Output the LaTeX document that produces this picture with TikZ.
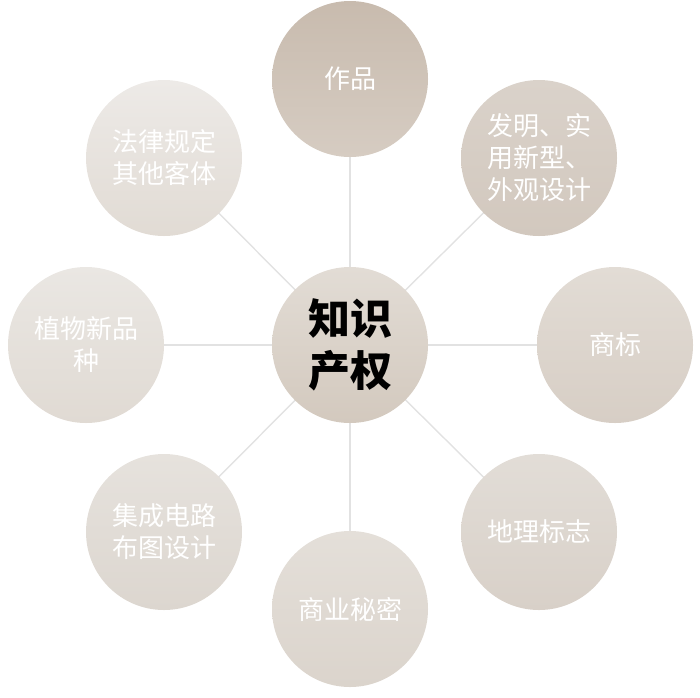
\documentclass[tikz,border=0pt]{standalone}
\usepackage{fontspec}
\newfontfamily\cjk{Noto Sans CJK SC}
\usetikzlibrary{backgrounds}
\definecolor{linec}{HTML}{E2E2E2}
\tikzset{
  bubble/.style={circle, minimum size=156pt, inner sep=0pt, align=center,
    text=white, font=\cjk\fontsize{26}{32}\selectfont, shading=axis},
  hub/.style={circle, minimum size=156pt, inner sep=0pt, align=center,
    text=black, font=\cjk\bfseries\fontsize{42}{52}\selectfont,
    top color=hubT, bottom color=hubB},
  spoke/.style={draw=linec, line width=1.4pt}
}
\definecolor{hubT}{HTML}{E2DCD5}
\definecolor{hubB}{HTML}{D3C9BE}
\begin{document}
\begin{tikzpicture}[x=1pt,y=-1pt]
\useasboundingbox (0,0) rectangle (700,697);
\node[hub] (c) at (350,345) {知识\\产权};
\node[bubble, top color={rgb,255:red,200;green,187;blue,174}, bottom color={rgb,255:red,214;green,204;blue,194}] (n1) at (350,79) {作品};
\node[bubble, top color={rgb,255:red,218;green,210;blue,202}, bottom color={rgb,255:red,210;green,200;blue,190}] (n2) at (539,158) {发明、实\\用新型、\\外观设计};
\node[bubble, top color={rgb,255:red,226;green,220;blue,213}, bottom color={rgb,255:red,215;green,206;blue,197}] (n3) at (615,345) {商标};
\node[bubble, top color={rgb,255:red,226;green,221;blue,215}, bottom color={rgb,255:red,216;green,208;blue,200}] (n4) at (539,532) {地理标志};
\node[bubble, top color={rgb,255:red,228;green,223;blue,217}, bottom color={rgb,255:red,219;green,212;blue,204}] (n5) at (350,609) {商业秘密};
\node[bubble, top color={rgb,255:red,230;green,226;blue,221}, bottom color={rgb,255:red,220;green,214;blue,207}] (n6) at (164,532) {集成电路\\布图设计};
\node[bubble, top color={rgb,255:red,234;green,231;blue,227}, bottom color={rgb,255:red,224;green,218;blue,211}] (n7) at (86,345) {植物新品\\种};
\node[bubble, top color={rgb,255:red,237;green,234;blue,231}, bottom color={rgb,255:red,225;green,219;blue,212}] (n8) at (164,158) {法律规定\\其他客体};
\begin{scope}[on background layer]
\foreach \n in {n1,n2,n3,n4,n5,n6,n7,n8}
  \draw[spoke] (c.center) -- (\n.center);
\end{scope}
\end{tikzpicture}
\end{document}
